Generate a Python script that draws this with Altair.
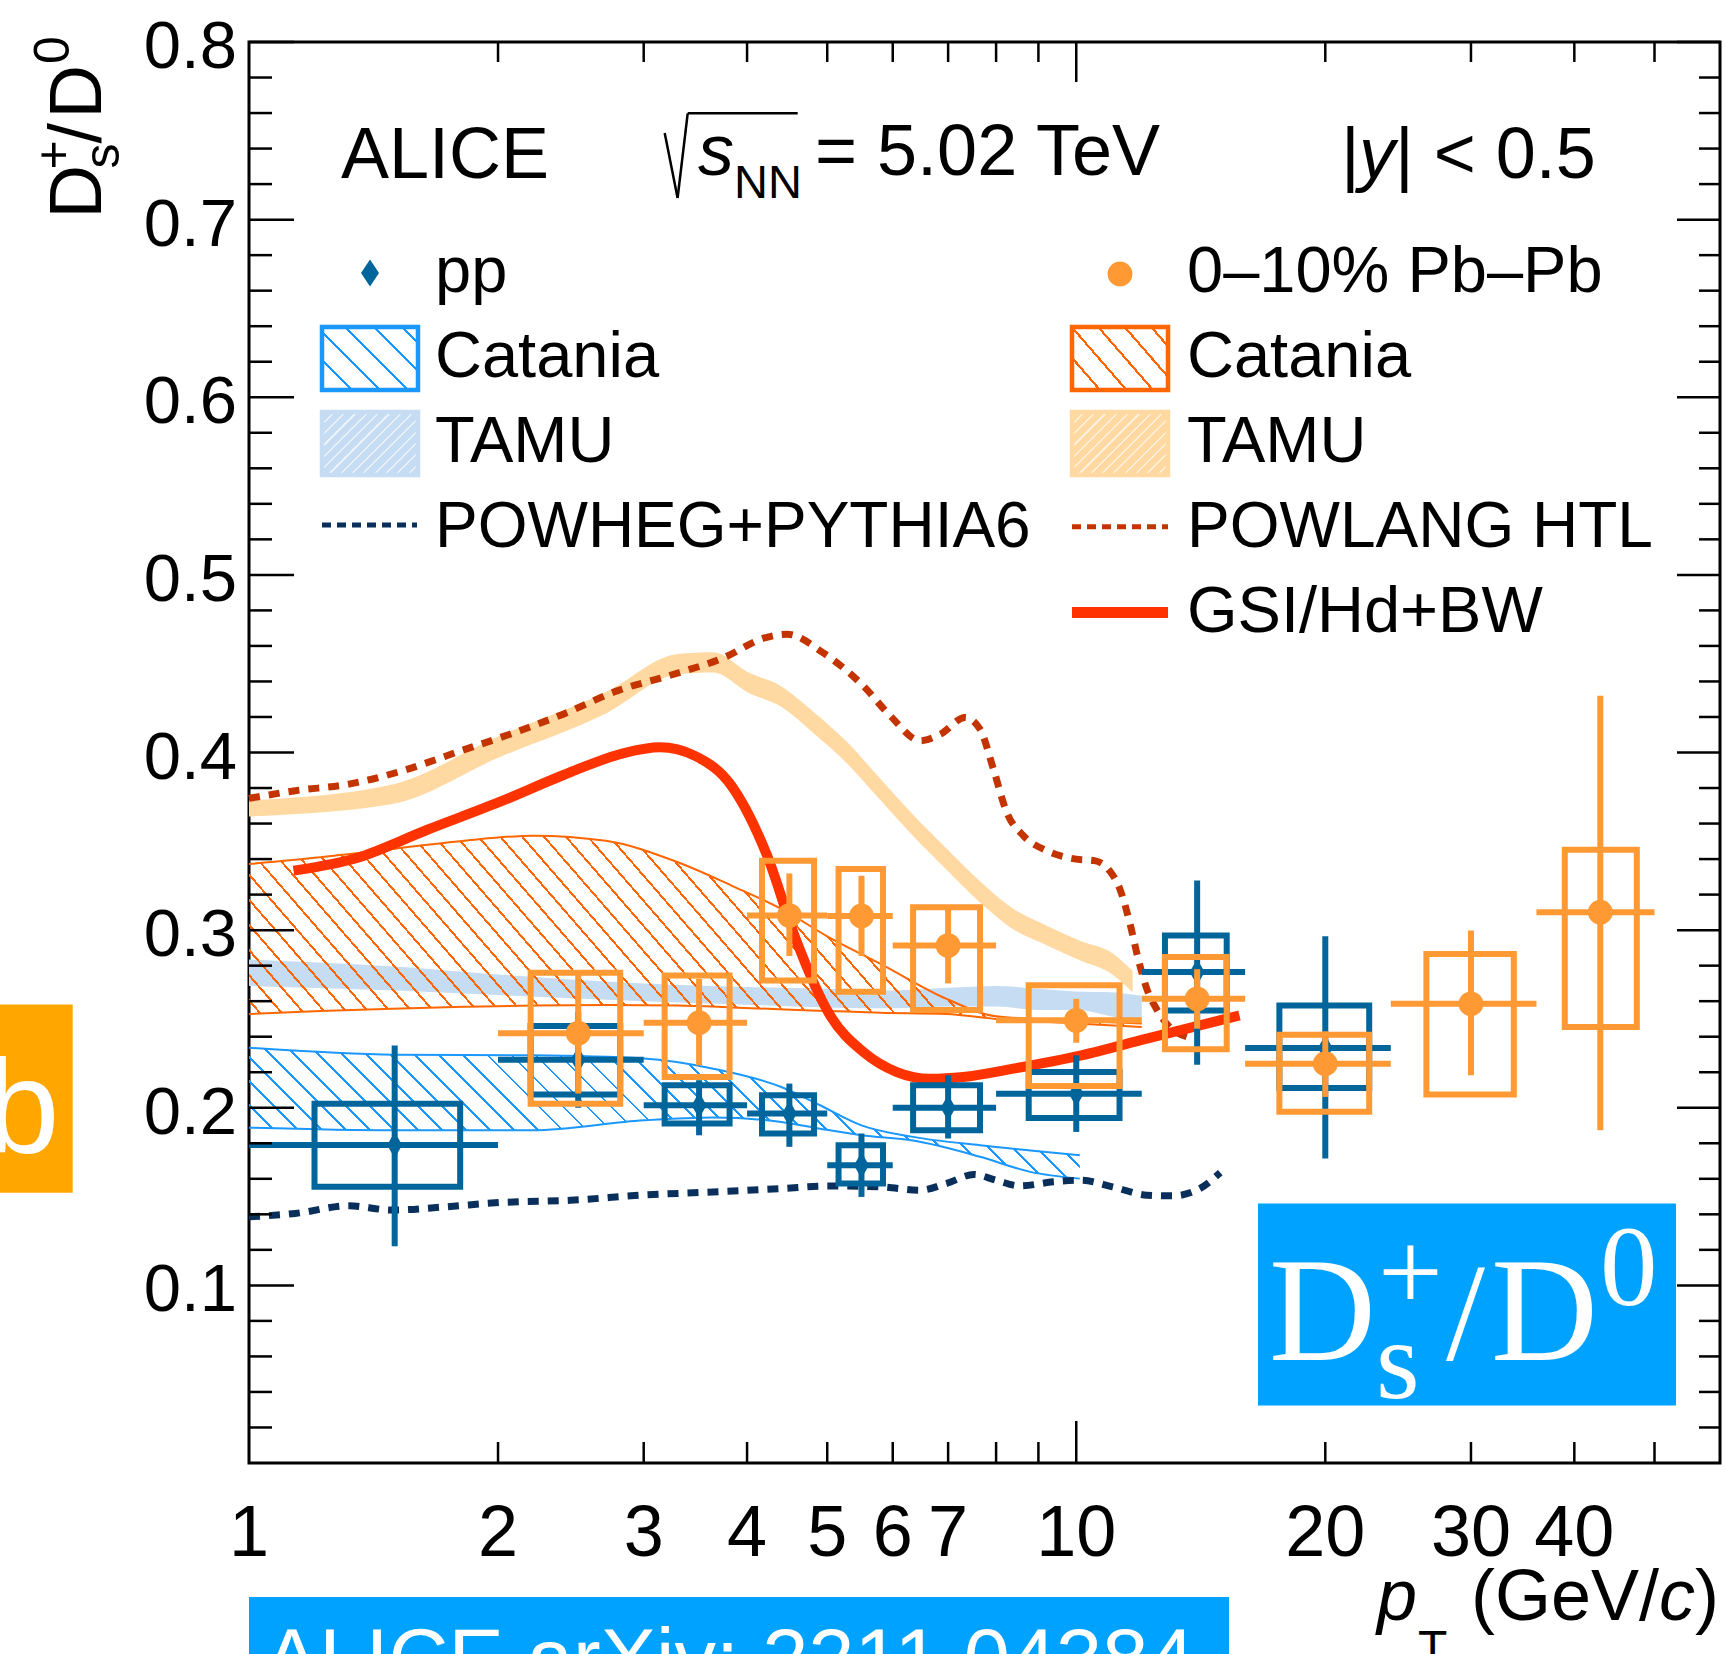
import math
import altair as alt
import pandas as pd

# ---------------- data ----------------
# pp measurement
pp_pt = [1.5, 2.5, 3.5, 4.5, 5.5, 7.0, 10.0, 14.0, 20.0]
pp_xlo = [1, 2, 3, 4, 5, 6, 8, 12, 16]
pp_xhi = [2, 3, 4, 5, 6, 8, 12, 16, 24]
pp_val = [0.179, 0.227, 0.2014, 0.1967, 0.1676, 0.200, 0.2079, 0.2764, 0.2336]
pp_stat_lo = [0.122, 0.200, 0.1845, 0.178, 0.1498, 0.1827, 0.1864, 0.2242, 0.1714]
pp_stat_hi = [0.235, 0.254, 0.2155, 0.2136, 0.1855, 0.2183, 0.2295, 0.3279, 0.2966]
pp_sys_lo = [0.1555, 0.2074, 0.1911, 0.1855, 0.1574, 0.1873, 0.1942, 0.2548, 0.2111]
pp_sys_hi = [0.2023, 0.246, 0.2126, 0.207, 0.1789, 0.2126, 0.2201, 0.297, 0.2576]
pp_box_lo = [1.2, 2.19, 3.18, 4.17, 5.16, 6.35, 8.76, 12.8, 17.6]
pp_box_hi = [1.8, 2.81, 3.81, 4.82, 5.84, 7.65, 11.28, 15.2, 22.6]

# 0-10% Pb-Pb measurement
pb_pt = [2.5, 3.5, 4.5, 5.5, 7.0, 10.0, 14.0, 20.0, 30.0, 43.0]
pb_xlo = [2, 3, 4, 5, 6, 8, 12, 16, 24, 36]
pb_xhi = [3, 4, 5, 6, 8, 12, 16, 24, 36, 50]
pb_val = [0.242, 0.2479, 0.3082, 0.308, 0.2913, 0.2492, 0.2613, 0.2248, 0.2585, 0.3101]
pb_stat_lo = [0.208, 0.2239, 0.2854, 0.2854, 0.270, 0.2366, 0.2445, 0.2061, 0.2183, 0.1873]
pb_stat_hi = [0.276, 0.2726, 0.3319, 0.3306, 0.3125, 0.2613, 0.278, 0.243, 0.2998, 0.4319]
pb_sys_lo = [0.2023, 0.2173, 0.2717, 0.2653, 0.2551, 0.2123, 0.2329, 0.1977, 0.2074, 0.2455]
pb_sys_hi = [0.276, 0.2744, 0.3391, 0.3344, 0.3129, 0.2689, 0.2848, 0.2411, 0.2866, 0.3453]
pb_box_lo = [2.19, 3.18, 4.17, 5.16, 6.35, 8.76, 12.8, 17.6, 26.5, 38.95]
pb_box_hi = [2.81, 3.81, 4.82, 5.84, 7.65, 11.28, 15.2, 22.6, 33.8, 47.6]

# Catania pp band
cat_pp_pt = [1.0, 1.5, 2.2, 3.0, 3.64, 4.4, 4.9, 5.5, 6.35, 7.65, 8.8, 10.1]
cat_pp_hi = [0.2338, 0.2299, 0.2295, 0.2277, 0.222, 0.2117, 0.2014, 0.1901, 0.1836, 0.1789, 0.176, 0.1733]
cat_pp_lo = [0.1888, 0.1873, 0.1873, 0.1929, 0.1945, 0.192, 0.1882, 0.1845, 0.1815, 0.1724, 0.1639, 0.1601]

# Catania Pb-Pb band
cat_pb_pt = [1.0, 1.22, 1.49, 1.82, 2.21, 2.7, 3.3, 3.83, 4.44, 5.0, 5.8, 6.97, 8.0, 10.0, 12.0]
cat_pb_hi = [0.3372, 0.341, 0.3457, 0.3503, 0.3532, 0.3503, 0.3382, 0.3251, 0.311, 0.2965, 0.281, 0.2613, 0.2515, 0.249, 0.2475]
cat_pb_lo = [0.2528, 0.2545, 0.2558, 0.2568, 0.2575, 0.2578, 0.2575, 0.2565, 0.2553, 0.2545, 0.2535, 0.2528, 0.2500, 0.2475, 0.2455]

# TAMU pp band
tamu_pp_pt = [1.0, 1.5, 2.0, 3.0, 4.0, 5.0, 6.0, 7.0, 8.0, 9.0, 10.0, 11.0, 12.0]
tamu_pp_hi = [0.2835, 0.2795, 0.275, 0.27, 0.268, 0.267, 0.266, 0.2675, 0.2685, 0.267, 0.2655, 0.265, 0.263]
tamu_pp_lo = [0.2685, 0.266, 0.2635, 0.26, 0.258, 0.2565, 0.256, 0.257, 0.257, 0.255, 0.255, 0.2515, 0.247]

# TAMU Pb-Pb band
tamu_pb_pt = [1.0, 1.49, 2.0, 2.7, 3.3, 3.64, 4.02, 4.39, 4.81, 5.28, 5.79, 6.35, 6.97, 7.65, 8.39, 9.21, 10.1, 11.06, 11.7]
tamu_pb_hi = [0.373, 0.382, 0.409, 0.434, 0.4555, 0.4565, 0.445, 0.4375, 0.423, 0.406, 0.3855, 0.365, 0.346, 0.3275, 0.312, 0.3025, 0.294, 0.287, 0.277]
tamu_pb_lo = [0.364, 0.371, 0.397, 0.422, 0.444, 0.445, 0.4335, 0.426, 0.411, 0.394, 0.3735, 0.353, 0.334, 0.3155, 0.3005, 0.2915, 0.283, 0.275, 0.265]

# POWHEG+PYTHIA6 (pp)
powheg_pt = [1.0, 1.138, 1.321, 1.489, 1.727, 2.005, 2.446, 2.985, 3.64, 4.39, 5.04, 5.79, 6.48, 6.97, 7.52, 8.0, 8.55, 9.38, 10.14, 11.06, 12.18, 13.08, 14.1, 14.93]
powheg_v = [0.1386, 0.1405, 0.1448, 0.1424, 0.1442, 0.1466, 0.1479, 0.1508, 0.1526, 0.1545, 0.156, 0.1555, 0.1536, 0.1574, 0.1624, 0.1592, 0.156, 0.1583, 0.1592, 0.1555, 0.1508, 0.1504, 0.1545, 0.1635]

# POWLANG HTL (Pb-Pb)
powlang_pt = [1.0, 1.138, 1.321, 1.533, 1.779, 2.067, 2.398, 2.785, 3.231, 3.75, 4.2, 4.47, 4.94, 5.53, 5.96, 6.48, 6.85, 7.34, 7.65, 7.94, 8.24, 8.63, 9.21, 9.95, 10.52, 10.97, 11.29, 11.6, 11.88, 12.17, 12.5, 13.0, 13.6]
powlang_v = [0.3742, 0.3785, 0.3822, 0.3897, 0.4, 0.4103, 0.4216, 0.4347, 0.4435, 0.4534, 0.4645, 0.4666, 0.4562, 0.4374, 0.4206, 0.4066, 0.4103, 0.4197, 0.4131, 0.3907, 0.3663, 0.3532, 0.3447, 0.3401, 0.3391, 0.3335, 0.3232, 0.3045, 0.2839, 0.2669, 0.2557, 0.245, 0.24]

# GSI/Hd+BW (Pb-Pb)
gsi_pt = [1.132, 1.347, 1.643, 2.005, 2.446, 2.84, 3.14, 3.46, 3.83, 4.23, 4.58, 5.04, 5.53, 6.07, 6.66, 7.3, 8.39, 10.14, 12.17, 15.75]
gsi_v = [0.3335, 0.3405, 0.3565, 0.372, 0.3889, 0.3997, 0.4029, 0.3981, 0.3813, 0.3419, 0.295, 0.252, 0.2314, 0.2201, 0.2163, 0.2173, 0.222, 0.2295, 0.2389, 0.252]

# axis ticks and labels
y_major = [0.1, 0.2, 0.3, 0.4, 0.5, 0.6, 0.7, 0.8]
y_minor = [round(0.02 * i, 2) for i in range(1, 40) if i % 5 != 0]
y_labels = ["0.1", "0.2", "0.3", "0.4", "0.5", "0.6", "0.7", "0.8"]
x_major = [10]
x_minor = [2, 3, 4, 5, 6, 7, 8, 9, 20, 30, 40, 50]
x_label_vals = [1, 2, 3, 4, 5, 6, 7, 10, 20, 30, 40]
x_labels = ["1", "2", "3", "4", "5", "6", "7", "10", "20", "30", "40"]

# ---------------- layout / style ----------------
W, H = 1471, 1421
PAD = {"left": 249, "top": 42, "right": 7, "bottom": 191}
XDOM = [1, 60]
YDOM = [0, 0.8]
FONT = "Liberation Sans"
SERIF = "Liberation Serif"

C_PP = "#00659a"
C_PB = "#ff9933"
C_CAT_PP = "#1a98ff"
C_CAT_PB = "#ff6600"
C_TAMU_PP = "#c6dcf3"
C_TAMU_PB = "#ffd9a1"
C_POWHEG = "#0b2f5b"
C_POWLANG = "#c33400"
C_GSI = "#ff3300"
C_BLUEBOX = "#00a2ff"
C_ORBOX = "#ffa600"
CLEAR = "rgba(255,255,255,0)"

DIAMOND = "M0,-1.75L1,0L0,1.75L-1,0Z"
DIAMOND_LEG = "M0,-1.5L1,0L0,1.5L-1,0Z"

xs = alt.Scale(type="log", domain=XDOM, nice=False)
ys = alt.Scale(type="linear", domain=YDOM, nice=False, zero=False)


def X(f):
    return alt.X(f"{f}:Q", scale=xs, axis=None)


def X2(f):
    return alt.X2(f"{f}:Q")


def Y(f):
    return alt.Y(f"{f}:Q", scale=ys, axis=None)


def Y2(f):
    return alt.Y2(f"{f}:Q")


def xpix(p):
    return W * math.log10(p / XDOM[0]) / math.log10(XDOM[1] / XDOM[0])


def ypix(v):
    return H * (YDOM[1] - v) / (YDOM[1] - YDOM[0])


def hatch(color, bw, bh, slope, period, lw, bg=CLEAR, up=False):
    """Stripe gradient in bounding-box units giving diagonal hatching."""
    r = bh / (slope * bw)
    k = (1 + r) / (1 + r * r)
    span = bw * k * (1 + r * r) / math.sqrt(1 + 1 / slope ** 2)
    stops = []
    i = 0
    while True:
        a = i * period / span
        if a >= 1:
            break
        b = min((i * period + lw) / span, 1)
        stops += [{"offset": a, "color": bg}, {"offset": a, "color": color},
                  {"offset": b, "color": color}, {"offset": b, "color": bg}]
        i += 1
    if up:
        return {"gradient": "linear", "x1": 0, "y1": 0, "x2": k, "y2": k * r, "stops": stops}
    return {"gradient": "linear", "x1": 0, "y1": 1, "x2": k, "y2": 1 - k * r, "stops": stops}


one = pd.DataFrame({"k": [0]})


def txt(s, x, y, size, font=FONT, color="black", align="left", baseline="alphabetic", **kw):
    return alt.Chart(one).mark_text(text=s, font=font, fontSize=size, color=color,
                                    align=align, baseline=baseline, **kw).encode(
        x=alt.value(x), y=alt.value(y))


def rect(x, x2, y, y2, **kw):
    return alt.Chart(one).mark_rect(**kw).encode(
        x=alt.value(x), x2=alt.value(x2), y=alt.value(y), y2=alt.value(y2))


def seg(x, y, x2, y2, **kw):
    return alt.Chart(one).mark_rule(**kw).encode(
        x=alt.value(x), y=alt.value(y), x2=alt.value(x2), y2=alt.value(y2))


layers = []

# ---- TAMU bands ----
tamu_pp = pd.DataFrame(dict(pt=tamu_pp_pt, lo=tamu_pp_lo, hi=tamu_pp_hi))
tamu_pb = pd.DataFrame(dict(pt=tamu_pb_pt, lo=tamu_pb_lo, hi=tamu_pb_hi))
layers.append(alt.Chart(tamu_pp).mark_area(color=C_TAMU_PP, opacity=1, interpolate="monotone").encode(
    x=X("pt"), y=Y("lo"), y2=Y2("hi")))
layers.append(alt.Chart(tamu_pb).mark_area(color=C_TAMU_PB, opacity=1, interpolate="monotone").encode(
    x=X("pt"), y=Y("lo"), y2=Y2("hi")))

# ---- Catania bands (hatched) ----
for pts, lo, hi, col, slope, per in [
    (cat_pp_pt, cat_pp_lo, cat_pp_hi, C_CAT_PP, 1.0, 17),
    (cat_pb_pt, cat_pb_lo, cat_pb_hi, C_CAT_PB, 1.15, 16.5),
]:
    df = pd.DataFrame(dict(pt=pts, lo=lo, hi=hi))
    bw = xpix(max(pts)) - xpix(min(pts))
    bh = ypix(min(lo)) - ypix(max(hi))
    g = hatch(col, bw, bh, slope, per, 2.0)
    layers.append(alt.Chart(df).mark_area(fill=g, opacity=1, interpolate="monotone").encode(
        x=X("pt"), y=Y("lo"), y2=Y2("hi")))
    layers.append(alt.Chart(df).mark_line(color=col, strokeWidth=2, interpolate="monotone").encode(
        x=X("pt"), y=Y("hi")))
    layers.append(alt.Chart(df).mark_line(color=col, strokeWidth=2, interpolate="monotone").encode(
        x=X("pt"), y=Y("lo")))

# ---- model curves ----
powheg = pd.DataFrame(dict(pt=powheg_pt, v=powheg_v))
powlang = pd.DataFrame(dict(pt=powlang_pt, v=powlang_v))
gsi = pd.DataFrame(dict(pt=gsi_pt, v=gsi_v))
layers.append(alt.Chart(powheg).mark_line(color=C_POWHEG, strokeWidth=7, strokeDash=[11, 9],
                                          interpolate="monotone").encode(x=X("pt"), y=Y("v")))
layers.append(alt.Chart(powlang).mark_line(color=C_POWLANG, strokeWidth=7, strokeDash=[11, 9],
                                           interpolate="monotone").encode(x=X("pt"), y=Y("v")))
layers.append(alt.Chart(gsi).mark_line(color=C_GSI, strokeWidth=10,
                                       interpolate="monotone").encode(x=X("pt"), y=Y("v")))

# ---- data points ----
for (pt, xlo, xhi, val, elo, ehi, slo, shi, blo, bhi, col, shape, size) in [
    (pp_pt, pp_xlo, pp_xhi, pp_val, pp_stat_lo, pp_stat_hi, pp_sys_lo, pp_sys_hi, pp_box_lo, pp_box_hi,
     C_PP, DIAMOND, 225),
    (pb_pt, pb_xlo, pb_xhi, pb_val, pb_stat_lo, pb_stat_hi, pb_sys_lo, pb_sys_hi, pb_box_lo, pb_box_hi,
     C_PB, "circle", 616),
]:
    df = pd.DataFrame(dict(pt=pt, xlo=xlo, xhi=xhi, v=val, elo=elo, ehi=ehi,
                           slo=slo, shi=shi, blo=blo, bhi=bhi))
    layers.append(alt.Chart(df).mark_rect(filled=False, color=col, strokeWidth=6).encode(
        x=X("blo"), x2=X2("bhi"), y=Y("slo"), y2=Y2("shi")))
    layers.append(alt.Chart(df).mark_rule(color=col, strokeWidth=6).encode(
        x=X("pt"), y=Y("elo"), y2=Y2("ehi")))
    layers.append(alt.Chart(df).mark_rule(color=col, strokeWidth=6).encode(
        x=X("xlo"), x2=X2("xhi"), y=Y("v")))
    layers.append(alt.Chart(df).mark_point(shape=shape, filled=True, size=size, color=col, opacity=1).encode(
        x=X("pt"), y=Y("v")))

# ---- frame ticks (inward) ----
ymaj = pd.DataFrame(dict(v=y_major))
ymin = pd.DataFrame(dict(v=y_minor))
xmaj = pd.DataFrame(dict(p=x_major))
xmin = pd.DataFrame(dict(p=x_minor))
TK = dict(color="black", strokeWidth=2.5)
layers += [
    alt.Chart(ymaj).mark_rule(**TK).encode(y=Y("v"), x=alt.value(0), x2=alt.value(45)),
    alt.Chart(ymin).mark_rule(**TK).encode(y=Y("v"), x=alt.value(0), x2=alt.value(23)),
    alt.Chart(ymaj).mark_rule(**TK).encode(y=Y("v"), x=alt.value(W - 43), x2=alt.value(W)),
    alt.Chart(ymin).mark_rule(**TK).encode(y=Y("v"), x=alt.value(W - 21), x2=alt.value(W)),
    alt.Chart(xmaj).mark_rule(**TK).encode(x=X("p"), y=alt.value(H - 42), y2=alt.value(H)),
    alt.Chart(xmin).mark_rule(**TK).encode(x=X("p"), y=alt.value(H - 21), y2=alt.value(H)),
    alt.Chart(xmaj).mark_rule(**TK).encode(x=X("p"), y=alt.value(0), y2=alt.value(40)),
    alt.Chart(xmin).mark_rule(**TK).encode(x=X("p"), y=alt.value(0), y2=alt.value(20)),
]

# ---- tick labels ----
ylab = pd.DataFrame(dict(v=y_major, t=y_labels))
xlab = pd.DataFrame(dict(p=x_label_vals, t=x_labels))
layers.append(alt.Chart(ylab).mark_text(align="right", baseline="alphabetic", font=FONT, fontSize=67,
                                        dy=26, color="black").encode(y=Y("v"), x=alt.value(-12), text="t:N"))
layers.append(alt.Chart(xlab).mark_text(align="center", baseline="alphabetic", font=FONT, fontSize=72,
                                        color="black").encode(x=X("p"), y=alt.value(1514), text="t:N"))

# ---- axis titles ----
layers += [
    txt("D", -148, 176.5, 74, angle=270),
    txt("s", -130, 126.5, 50, angle=270),
    txt("+", -179, 127.5, 50, angle=270),
    txt("/", -148, 101.5, 74, angle=270),
    txt("D", -148, 76.5, 74, angle=270),
    txt("0", -180, 22, 50, angle=270),
    txt("p", 1128, 1578, 72, fontStyle="italic"),
    txt("T", 1169, 1622, 48),
    txt("(GeV/", 1222, 1578, 72),
    txt("c", 1410, 1578, 72, fontStyle="italic"),
    txt(")", 1446, 1578, 72),
]

# ---- header ----
layers += [
    txt("ALICE", 92, 136, 72),
    seg(415.7, 91, 428.6, 156, color="black", strokeWidth=2.5),
    seg(428.6, 156, 438.7, 71.3, color="black", strokeWidth=2.5),
    seg(438.7, 71.3, 548.7, 71.3, color="black", strokeWidth=2.5),
    txt("s", 449, 133, 72, fontStyle="italic"),
    txt("NN", 485, 156, 47),
    txt("= 5.02 TeV", 566, 133, 72),
    txt("|", 1092, 136, 72),
    txt("y", 1110, 136, 72, fontStyle="italic"),
    txt("| < 0.5", 1146, 136, 72),
]

# ---- legend ----
LX, RX = 186, 938
rows = [249.7, 334.7, 419.7, 504.7, 589.7]
hb_pp = hatch(C_CAT_PP, 96, 63, 1.0, 20, 2.2)
hb_pb = hatch(C_CAT_PB, 96, 63, 1.15, 20, 2.2)
ht_pp = hatch("#eaf3fc", 96, 63, 1.0, 8, 1.5, bg=C_TAMU_PP, up=True)
ht_pb = hatch("#fff1dc", 96, 63, 1.0, 8, 1.5, bg=C_TAMU_PB, up=True)
layers += [
    alt.Chart(one).mark_point(shape=DIAMOND_LEG, filled=True, size=324, color=C_PP, opacity=1).encode(
        x=alt.value(121), y=alt.value(231)),
    alt.Chart(one).mark_point(shape="circle", filled=True, size=616, color=C_PB, opacity=1).encode(
        x=alt.value(871), y=alt.value(232)),
    rect(73, 169, 285, 348, fill=hb_pp, stroke=C_CAT_PP, strokeWidth=4.5),
    rect(823, 919, 285, 348, fill=hb_pb, stroke=C_CAT_PB, strokeWidth=4.5),
    rect(73, 169, 370, 433, fill=ht_pp, stroke=C_TAMU_PP, strokeWidth=4.5),
    rect(823, 919, 370, 433, fill=ht_pb, stroke=C_TAMU_PB, strokeWidth=4.5),
    seg(73, 483, 168, 483, color=C_POWHEG, strokeWidth=5, strokeDash=[9, 6]),
    seg(823, 484.7, 919, 484.7, color=C_POWLANG, strokeWidth=5, strokeDash=[9, 6]),
    seg(823, 570.4, 919, 570.4, color=C_GSI, strokeWidth=11),
    txt("pp", LX, rows[0], 65),
    txt("Catania", LX, rows[1], 65),
    txt("TAMU", LX, rows[2], 65),
    txt("POWHEG+PYTHIA6", LX, rows[3], 64),
    txt("0\u201310% Pb\u2013Pb", RX, rows[0], 65),
    txt("Catania", RX, rows[1], 65),
    txt("TAMU", RX, rows[2], 65),
    txt("POWLANG HTL", RX, rows[3], 64),
    txt("GSI/Hd+BW", RX, rows[4], 65),
]

# ---- decorations: D_s+/D0 box, "b" tag, arXiv banner ----
layers += [
    rect(1009, 1427, 1161.5, 1363.5, color=C_BLUEBOX),
    txt("D", 1020, 1318, 148, font=SERIF, color="white"),
    txt("+", 1129, 1268, 115, font=SERIF, color="white"),
    txt("s", 1127, 1356, 112, font=SERIF, color="white"),
    txt("/", 1197, 1318, 140, font=SERIF, color="white"),
    txt("D", 1242, 1318, 148, font=SERIF, color="white"),
    txt("0", 1351, 1263, 115, font=SERIF, color="white"),
    rect(-249, -176.3, 962.5, 1150.8, color=C_ORBOX),
    txt("b", -264, 1111, 134, color="white"),
    rect(0, 980, 1555, 1700, color=C_BLUEBOX),
    txt("ALICE arXiv: 2211.04384", 15, 1645, 83, color="white"),
]

chart = alt.layer(*layers).properties(
    width=W, height=H, padding=PAD,
    autosize=alt.AutoSizeParams(type="none"),
    background="white",
).configure_view(stroke="black", strokeWidth=3)

chart.save("out.html", embed_options={"renderer": "svg", "actions": False})
